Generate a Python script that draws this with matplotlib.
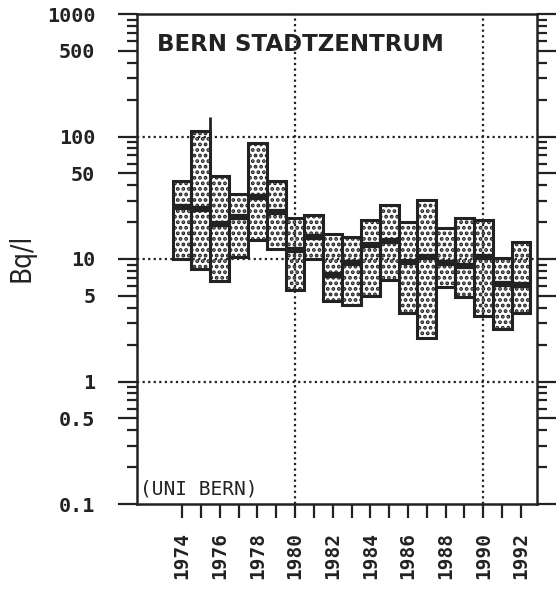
import numpy as np
import matplotlib.pyplot as plt
from matplotlib.ticker import FixedLocator, NullFormatter

# yearly radon range (min / max) and mean line, Bq/l
years = np.arange(1974, 1993)
low = [10, 8.3, 6.6, 10.4, 14.3, 12.1, 5.6, 10.0, 4.5, 4.2, 5.0, 6.7, 3.6, 2.25, 5.9, 4.9, 3.4, 2.7, 3.65]
high = [43.6, 111, 48, 33.7, 88, 43.3, 21.5, 22.9, 16.0, 15.0, 20.8, 27.6, 20.2, 30.3, 17.8, 21.5, 20.8, 10.1, 13.8]
mean = [26.6, 25.6, 19.3, 22.1, 32.3, 24.3, 11.8, 15.2, 7.4, 9.3, 13.0, 14.0, 9.5, 10.4, 9.3, 8.8, 10.4, 6.25, 6.1]
spike_year = [1975]
spike_top = [143]

ytick_vals = [0.1, 0.5, 1, 5, 10, 50, 100, 500, 1000]
ytick_labels = ['0.1', '0.5', '1', '5', '10', '50', '100', '500', '1000']
xlabel_years = [1974, 1976, 1978, 1980, 1982, 1984, 1986, 1988, 1990, 1992]

ink = '#222222'
plt.rcParams['hatch.color'] = '#2a2a2a'
plt.rcParams['hatch.linewidth'] = 1.9

fig = plt.figure(figsize=(5.57, 5.92), dpi=100)
ax = fig.add_axes([137/557, 1-504/592, 400/557, 490/592])
ax.set_yscale('log')
ax.set_ylim(0.1, 1000)
ax.set_xlim(1971.61, 1992.85)

low = np.array(low)
high = np.array(high)
ax.bar(years, high - low, bottom=low, width=1.0, facecolor='white',
       edgecolor=ink, linewidth=2.2, hatch='...', zorder=2)
ax.hlines(mean, years - 0.5, years + 0.5, colors=ink, linewidth=4.5, zorder=4)
ax.vlines(np.array(spike_year) + 0.5, high[years == 1975], spike_top, colors=ink, linewidth=2, zorder=4)

# dotted grid
for yv in [1, 10, 100]:
    ax.axhline(yv, color=ink, linestyle=(0, (1, 1.5)), linewidth=1.6, zorder=3)
for xv in [1980, 1990]:
    ax.axvline(xv, color=ink, linestyle=(0, (1, 1.5)), linewidth=1.6, zorder=3)

# y axis ticks
minor = [m * 10.0**e for e in range(-1, 3) for m in [2, 3, 4, 6, 7, 8, 9]]
ax.yaxis.set_major_locator(FixedLocator(ytick_vals))
ax.yaxis.set_minor_locator(FixedLocator(minor))
ax.yaxis.set_minor_formatter(NullFormatter())
ax.set_yticklabels(ytick_labels, family='DejaVu Sans Mono', fontweight='bold', fontsize=14.5, color=ink)
ax.tick_params(axis='y', which='major', direction='out', length=14, width=1.6, color=ink,
               left=True, right=True, labelright=False, pad=16)
ax.tick_params(axis='y', which='minor', direction='out', length=7, width=1.6, color=ink,
               left=True, right=True)

# x axis ticks
ax.set_xticks(years)
ax.set_xticklabels([str(y) if y in xlabel_years else '' for y in years],
                   rotation=90, family='DejaVu Sans Mono', fontweight='bold', fontsize=14, color=ink)
ax.tick_params(axis='x', which='major', direction='out', length=10, width=1.6, color=ink, pad=10)
ax.tick_params(axis='x', which='minor', bottom=False)

for s in ax.spines.values():
    s.set_linewidth(1.8)
    s.set_color(ink)

ax.text(0.05, 0.937, 'BERN STADTZENTRUM', transform=ax.transAxes, ha='left', va='center',
        fontsize=16.5, fontweight='bold', color=ink)
ax.text(0.008, 0.03, '(UNI BERN)', transform=ax.transAxes, ha='left', va='center',
        family='DejaVu Sans Mono', fontsize=14, color=ink)

fig.text(22/557, 1-258/592, 'Bq/l', rotation=90, ha='center', va='center',
         family=['DejaVu Sans Condensed', 'Liberation Sans Narrow', 'DejaVu Sans'],
         fontstretch='condensed', fontsize=20, color=ink)

fig.savefig('out.png', dpi=100)
